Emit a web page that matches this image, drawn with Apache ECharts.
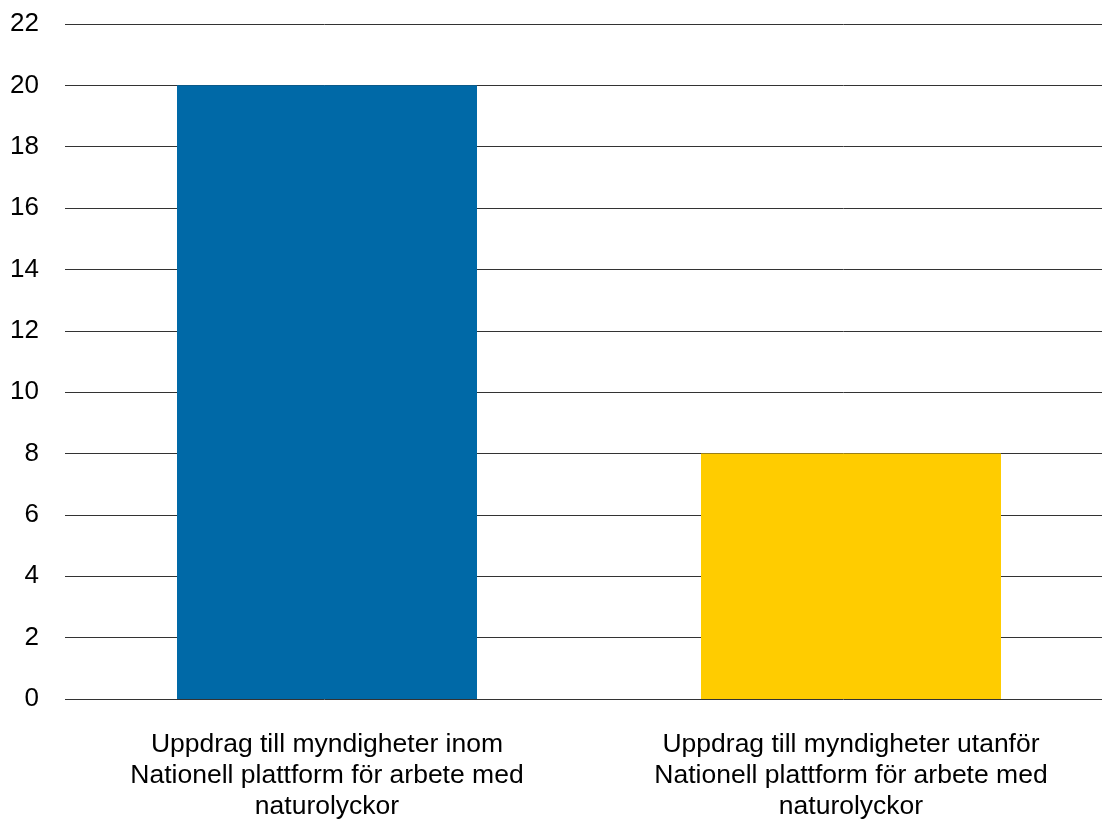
<!DOCTYPE html>
<html>
<head>
<meta charset="utf-8">
<script src="https://cdn.jsdelivr.net/npm/echarts@6/dist/echarts.min.js"></script>
<style>html,body{margin:0;padding:0;background:#fff}#c{width:1102px;height:822px}</style>
</head>
<body>
<div id="c"></div>
<script>
const categories = [
  "Uppdrag till myndigheter inom\nNationell plattform för arbete med\nnaturolyckor",
  "Uppdrag till myndigheter utanför\nNationell plattform för arbete med\nnaturolyckor"
];
const values = [20, 8];
const barColors = ["#0069A7", "#FFCC00"];
const yTicks = { min: 0, max: 22, interval: 2 };

const chart = echarts.init(document.getElementById('c'));
chart.setOption({
  animation: false,
  grid: { left: 65, width: 1048, top: 24, height: 675, containLabel: false, outerBoundsMode: 'none' },
  xAxis: {
    type: 'category',
    data: categories,
    axisLine: { show: false },
    axisTick: { show: false },
    axisLabel: {
      interval: 0,
      margin: 30,
      fontFamily: 'Liberation Sans, Arial, sans-serif',
      fontSize: 26.5,
      lineHeight: 31,
      color: '#000'
    }
  },
  yAxis: {
    type: 'value',
    min: yTicks.min, max: yTicks.max, interval: yTicks.interval,
    axisLine: { show: false },
    axisTick: { show: false },
    splitLine: { lineStyle: { color: '#333', width: 1 } },
    axisLabel: {
      margin: 26,
      fontFamily: 'Liberation Sans, Arial, sans-serif',
      fontSize: 26,
      color: '#000'
    }
  },
  series: [{
    type: 'bar',
    barWidth: 300,
    data: values.map((v, i) => ({ value: v, itemStyle: { color: barColors[i] } }))
  }]
});
</script>
</body>
</html>
